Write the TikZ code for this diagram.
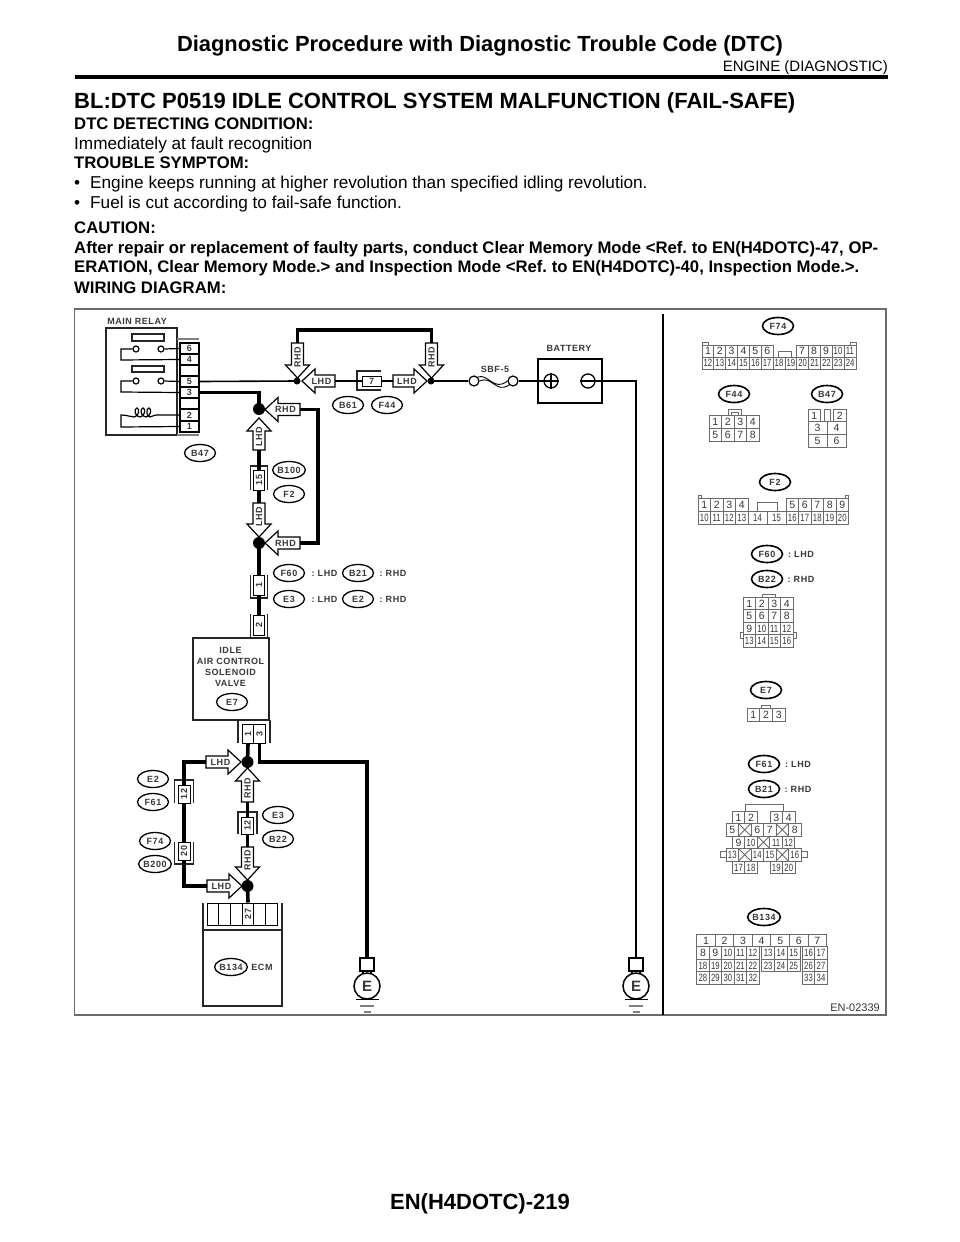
\documentclass[tikz,border=0pt]{standalone}
\usepackage{fontspec}
\usepackage{graphicx}
\usetikzlibrary{shapes.geometric}
\setmainfont{Liberation Sans}
\newfontfamily\lblfont[LetterSpace=6]{Liberation Sans}
\definecolor{ink}{gray}{0.22}
\definecolor{grid}{gray}{0.42}
\newcounter{cn}
\frenchspacing
\tikzset{
  wthick/.style={line width=3.6pt,line cap=butt,line join=miter},
  wthin/.style={line width=1.6pt},
  dev/.style={draw=black!85,line width=1.3pt},
  oval/.style={draw=black,line width=1.3pt,ellipse,minimum width=31pt,minimum height=17pt,inner sep=0pt,font=\fontsize{9}{10}\lblfont\bfseries,text=ink},
  ovalb/.style={oval,line width=1.6pt},
  lab/.style={font=\fontsize{9}{10}\lblfont\bfseries,text=ink,inner sep=0pt,align=center},
  pin/.style={draw=black,line width=1pt,fill=white,inner sep=0pt,font=\fontsize{9}{10}\lblfont\bfseries,text=ink},
  dotn/.style={circle,fill=black,inner sep=0pt},
  cellbox/.style={draw=grid,line width=0.9pt,inner sep=0pt,fill=white,font=\fontsize{10.5}{11}\selectfont,text=ink,text height=7.5pt,text depth=0pt},
  gridl/.style={draw=grid,line width=0.9pt},
  ptxt/.style={anchor=base west,inner sep=0pt,font=\fontsize{17.2}{19}\selectfont,text=black},
  ptxb/.style={ptxt,font=\fontsize{16.7}{19}\selectfont\bfseries},
  arrowb/.style={draw=black,line width=1.2pt,fill=white,line join=miter}
}
% cell text: two-digit numbers are set narrower
\newcommand\celltext[1]{\setbox0\hbox{#1}\ifdim\wd0>7pt \scalebox{0.74}[1]{#1}\else #1\fi}
% horizontal block arrow: name, tip x, y, sign, length, label
\newcommand\harr[6]{%
  \draw[arrowb] (#2,#3) -- ({#2-#4*13},{#3-12}) -- ({#2-#4*13},{#3-6}) -- ({#2-#4*#5},{#3-6}) -- ({#2-#4*#5},{#3+6}) -- ({#2-#4*13},{#3+6}) -- ({#2-#4*13},{#3+12}) -- cycle;
  \node[lab] (#1l) at ({#2-#4*(#5+6)/2},#3) {#6};
  \coordinate (#1) at ({#2-#4*#5},#3);}
% vertical block arrow: name, x, tip y, sign, length, label
\newcommand\varr[6]{%
  \draw[arrowb] (#2,#3) -- ({#2-12},{#3-#4*13}) -- ({#2-6},{#3-#4*13}) -- ({#2-6},{#3-#4*#5}) -- ({#2+6},{#3-#4*#5}) -- ({#2+6},{#3-#4*13}) -- ({#2+12},{#3-#4*13}) -- cycle;
  \node[lab,rotate=90] (#1l) at (#2,{#3-#4*(#5+6)/2}) {#6};
  \coordinate (#1) at (#2,{#3-#4*#5});}
% grid cell: x0,y0,x1,y1,text
\newcommand\cell[5]{\stepcounter{cn}%
  \node[cellbox,minimum width={((#3)-(#1))*1pt},minimum height={((#4)-(#2))*1pt}] (cell\arabic{cn}) at ({((#1)+(#3))/2},{((#2)+(#4))/2}) {\celltext{#5}};}
% row of cells: x0,dx,y0,y1,list
\newcommand\cellrow[5]{\foreach \t [count=\i from 0] in {#5}{\cell{#1+\i*#2}{#3}{#1+\i*#2+#2}{#4}{\t}}}
% pin box in a harness connector, rotated label
\newcommand\pinv[6]{\node[pin,minimum width=#4pt,minimum height=#5pt] (#1) at (#2,#3) {\rotatebox{90}{#6}};}
% earth symbol
\newcommand\gnd[3]{%
  \node[draw=black,line width=1.3pt,fill=white,minimum width=14pt,minimum height=13pt,inner sep=0pt] (#1) at (#2,964.5) {};
  \node[circle,draw=black,line width=1.5pt,fill=white,minimum size=26pt,inner sep=0pt,font=\fontsize{15}{16}\selectfont\bfseries,text=ink] (#3) at (#2,986) {E};
  \draw[line width=1.1pt] ({#2-4},971) -- ({#2-4},974) ({#2+4},971) -- ({#2+4},974);
  \draw[line width=1.4pt] ({#2-11.5},999.5) -- ({#2+11.5},999.5);
  \draw[line width=1.2pt,gray] ({#2-7},1006) -- ({#2+7},1006);
  \draw[line width=1.2pt,gray] ({#2-3.5},1012) -- ({#2+3.5},1012);}
\begin{document}
\begin{tikzpicture}[x=1pt,y=-1pt]
\useasboundingbox (0,0) rectangle (960,1242);
\fill[white] (0,0) rectangle (960,1242);
% ---- page text
\node[anchor=base,inner sep=0pt,font=\fontsize{21.9}{24}\selectfont\bfseries] (title) at (480,51) {Diagnostic Procedure with Diagnostic Trouble Code (DTC)};
\node[anchor=base east,inner sep=0pt,font=\fontsize{15}{18}\selectfont] (chap) at (888,71) {ENGINE (DIAGNOSTIC)};
\draw[line width=3.6pt] (75,77) -- (888,77);
\node[ptxt,font=\fontsize{22}{24}\selectfont\bfseries] (head) at (74,108) {BL:DTC P0519 IDLE CONTROL SYSTEM MALFUNCTION (FAIL-SAFE)};
\node[ptxb] (t1) at (74,129) {DTC DETECTING CONDITION:};
\node[ptxt] (t2) at (74,149) {Immediately at fault recognition};
\node[ptxb] (t3) at (74,168) {TROUBLE SYMPTOM:};
\node[ptxt] (t4a) at (74,188) {•};
\node[ptxt] (t4) at (90,188) {Engine keeps running at higher revolution than specified idling revolution.};
\node[ptxt] (t5a) at (74,208) {•};
\node[ptxt] (t5) at (90,208) {Fuel is cut according to fail-safe function.};
\node[ptxb] (t6) at (74,233) {CAUTION:};
\node[ptxb] (t7) at (74,253) {After repair or replacement of faulty parts, conduct Clear Memory Mode <Ref. to EN(H4DOTC)-47, OP-};
\node[ptxb] (t8) at (74,272) {ERATION, Clear Memory Mode.> and Inspection Mode <Ref. to EN(H4DOTC)-40, Inspection Mode.>.};
\node[ptxb] (t9) at (74,293) {WIRING DIAGRAM:};
\node[anchor=base,inner sep=0pt,font=\fontsize{22}{26}\selectfont\bfseries] (foot) at (480,1209) {EN(H4DOTC)-219};
% ---- frame
\draw[draw=grid,line width=1.5pt] (74.5,309) rectangle (886,1015);
\draw[line width=2.4pt] (663,314) -- (663,1015);
\node[anchor=base east,inner sep=0pt,font=\fontsize{11}{12}\selectfont,text=ink] (code) at (880,1011) {EN-02339};
% ---- main relay
\node[lab] (mrl) at (137,321) {MAIN RELAY};
\draw[dev] (106,328) rectangle (177,435);
\draw[gray,line width=1.3pt] (177,339) -- (199,339) (177,435) -- (199,435);
\foreach \n/\l/\y in {r6/6/348.5,r4/4/359.5,rb/{}/370.5,r5/5/381.5,r3/3/392.5,rc/{}/403.5,r2/2/415,r1/1/426.5}{
  \node[pin,minimum width=19pt,minimum height=11pt,line width=1.1pt] (\n) at (189.5,\y) {\l};}
\draw[dev] (132,334) rectangle (164,341) (132,366) rectangle (164,372);
\node[circle,draw=black,line width=1.2pt,minimum size=6pt,inner sep=0pt] (ca1) at (136,349) {};
\node[circle,draw=black,line width=1.2pt,minimum size=6pt,inner sep=0pt] (ca2) at (161,349) {};
\node[circle,draw=black,line width=1.2pt,minimum size=6pt,inner sep=0pt] (cb1) at (136,381) {};
\node[circle,draw=black,line width=1.2pt,minimum size=6pt,inner sep=0pt] (cb2) at (161,381) {};
\draw[line width=1.2pt] (ca2.east) -- (r6.west) (ca1.west) -- (121,349) -- (121,360) -- (r4.west);
\draw[line width=1.2pt] (cb2.east) -- (r5.west) (cb1.west) -- (121,381) -- (121,392) -- (r3.west);
\draw[line width=1.2pt] (r2.west) -- (157,415) .. controls (153,415) and (152,417) .. (150,417)
  .. controls (146,417) and (146,408) .. (149,408) .. controls (152,408) and (151,417) .. (146,417)
  .. controls (140,417) and (140,408) .. (143,408) .. controls (146,408) and (145,417) .. (140,417)
  .. controls (134,417) and (134,408) .. (137,408) .. controls (140,408) and (139,417) .. (134,417)
  .. controls (130,417) and (128,415) .. (121,415) -- (121,427) -- (r1.west);
\node[oval] (oB47) at (200,453) {B47};
% ---- wires: nodes of the upper harness
\node[dotn,minimum size=12pt] (d1) at (259,409) {};
\node[dotn,minimum size=12pt] (d2) at (259,543) {};
\node[dotn,minimum size=7pt] (d3) at (297,381) {};
\node[dotn,minimum size=7pt] (d4) at (431,381) {};
\varr{a1}{259}{418}{-1}{32}{LHD}
\varr{a2}{259}{537}{1}{34}{LHD}
\harr{a3}{265}{409.5}{-1}{35}{RHD}
\harr{a4}{265}{543}{-1}{35}{RHD}
\varr{a5}{297.5}{378}{1}{35}{RHD}
\varr{a6}{431.5}{378}{1}{35}{RHD}
\harr{a7}{302}{381}{-1}{33}{LHD}
\harr{a8}{427}{381}{1}{34}{LHD}
\pinv{c15}{259}{480}{11}{20}{15}
\draw[dev] (250.5,490) -- (250.5,466) -- (267.5,466) -- (267.5,490);
\pinv{c1}{259}{585}{11}{20}{1}
\draw[dev] (250.5,575) -- (250.5,598) -- (267.5,598) -- (267.5,575);
\pinv{c2}{259}{625}{11}{20}{2}
\draw[dev] (250.5,614) -- (250.5,638) (267.5,614) -- (267.5,638);
\node[pin,minimum width=19pt,minimum height=10pt] (c7) at (371.5,381) {7};
\draw[dev] (381,371) -- (357,371) -- (357,390) -- (381,390);
\draw[wthick] (r3.east) -- (259,392.5) -- (d1.center);
\draw[wthick] (a1) -- (c15.north);
\draw[wthick] (c15.south) -- (a2);
\draw[wthick] (d2.center) -- (c1.north);
\draw[wthick] (c1.south) -- (c2.north);
\draw[wthick] (a3) -- (318,409.5) -- (318,543) -- (a4);
\draw[wthick] (a5) -- (297.5,330) -- (431.5,330) -- (a6);
\draw[wthin] (r5.east) -- (d3.center);
\draw[wthin] (a7) -- (c7.west);
\draw[wthin] (c7.east) -- (a8);
\node[oval] (oB100) at (289,470) {B100};
\node[oval] (oF2) at (289,494) {F2};
\node[oval] (oB61) at (348,405) {B61};
\node[oval] (oF44) at (387,405) {F44};
\node[oval] (oF60) at (289,573) {F60};
\node[oval] (oE3) at (289,599) {E3};
\node[oval] (oB21) at (358,573) {B21};
\node[oval] (oE2) at (358,599) {E2};
\node[lab] (l1) at (324.5,573) {: LHD};
\node[lab] (l2) at (324.5,599) {: LHD};
\node[lab] (l3) at (393,573) {: RHD};
\node[lab] (l4) at (393,599) {: RHD};
% ---- fuse & battery
\node[circle,draw=black,line width=1.2pt,minimum size=10pt,inner sep=0pt] (f1) at (474,381) {};
\node[circle,draw=black,line width=1.2pt,minimum size=10pt,inner sep=0pt] (f2) at (513,381) {};
\draw[line width=0.9pt] (f1.north east) .. controls (488,373) and (494,392) .. (f2.west);
\draw[line width=0.9pt] (f1.east) .. controls (492,375) and (496,394) .. (f2.south west);
\node[lab] (sbf) at (495,369) {SBF-5};
\node[draw=black,line width=1.3pt,minimum width=64pt,minimum height=44pt,inner sep=0pt] (bat) at (570,381) {};
\node[lab] (batl) at (569,348) {BATTERY};
\node[circle,draw=black,line width=1.3pt,minimum size=14pt,inner sep=0pt] (bp) at (551,381) {};
\node[circle,draw=black,line width=1.3pt,minimum size=14pt,inner sep=0pt] (bm) at (588,381) {};
\draw[line width=1.1pt] (bp.west) -- (bp.east) (bp.north) -- (bp.south) (bm.west) -- (bm.east);
\draw[wthin] (d4.center) -- (f1.west);
\draw[wthin] (f2.east) -- (bp.west);
% ---- solenoid valve
\node[draw=black!85,line width=1.3pt,minimum width=76pt,minimum height=82pt,inner sep=0pt] (valve) at (231,679) {};
\node[lab,font=\fontsize{9}{11}\lblfont\bfseries] (vall) at (230.5,666.5) {IDLE\\AIR CONTROL\\SOLENOID\\VALVE};
\node[oval] (oE7) at (232,702) {E7};
\pinv{p1}{248}{733.5}{11}{19}{1}
\pinv{p3}{259.5}{733.5}{12}{19}{3}
\draw[dev] (238,720) -- (238,743) (270,720) -- (270,743);
\node[dotn,minimum size=12pt] (d5) at (247.5,762) {};
\node[dotn,minimum size=12pt] (d6) at (247.5,886) {};
\harr{a9}{241}{762}{1}{35}{LHD}
\harr{a10}{242}{886}{1}{35}{LHD}
\varr{a11}{247.5}{768}{-1}{34}{RHD}
\varr{a12}{247.5}{880}{1}{33}{RHD}
\pinv{e12}{184}{794}{12}{18}{12}
\draw[dev] (174.5,803) -- (174.5,780) -- (193.5,780) -- (193.5,803);
\pinv{e20}{184}{851}{12}{18}{20}
\draw[dev] (174.5,842) -- (174.5,864) -- (193.5,864) -- (193.5,842);
\pinv{g12}{247.5}{825.5}{12}{17}{12}
\draw[dev] (238,834) -- (238,812) -- (257,812) -- (257,834);
% ECM
\node[draw=black!85,line width=1.3pt,minimum width=79pt,minimum height=76pt,inner sep=0pt] (ecm) at (242.5,968) {};
\draw[dev] (203,903) -- (203,930) (282,903) -- (282,930);
\foreach \i/\n/\l in {0/m1/{},1/m2/{},2/m3/{},3/m4/27,4/m5/{},5/m6/{}}{
  \node[pin,minimum width=11.67pt,minimum height=22pt] (\n) at ({213+\i*11.67},914) {\rotatebox{90}{\l}};}
\node[oval] (oB134) at (231,967) {B134};
\node[lab] (ecml) at (262,967) {ECM};
\gnd{gb1}{367}{ge1}
\gnd{gb2}{636}{ge2}
\draw[wthick] (p1.south) -- (d5.center);
\draw[wthick] (p3.south) -- (259.5,762) -- (367,762) -- (gb1.north);
\draw[wthick] (a9) -- (184,762) -- (e12.north);
\draw[wthick] (e12.south) -- (e20.north);
\draw[wthick] (e20.south) -- (184,886) -- (a10);
\draw[wthick] (a11) -- (g12.north);
\draw[wthick] (g12.south) -- (a12);
\draw[wthick] (d6.center) -- (m4.north);
\draw[wthin] (bm.east) -- (636,381) -- (gb2.north);
\node[oval] (oE2b) at (153,779) {E2};
\node[oval] (oF61) at (153,802) {F61};
\node[oval] (oF74) at (155,841) {F74};
\node[oval] (oB200) at (155,864) {B200};
\node[oval] (oE3b) at (278,815) {E3};
\node[oval] (oB22) at (278,839) {B22};
% ---- connector faces: F74
\node[ovalb] (kF74) at (778,326) {F74};
\draw[gridl] (702,345) -- (702,342.5) -- (708,342.5) -- (708,345) (850,345) -- (850,342.5) -- (856,342.5) -- (856,345);
\draw[gridl] (778,357) -- (778,351) -- (791,351) -- (791,357);
\cellrow{702}{11.85}{345}{357}{1,2,3,4,5,6}
\cellrow{796}{12}{345}{357}{7,8,9,10,11}
\cellrow{702}{11.85}{357}{369}{12,13,14,15,16,17,18,19,20,21,22,23,24}
% F44
\node[ovalb] (kF44) at (734,394) {F44};
\draw[gridl] (728,415) -- (728,409) -- (741,409) -- (741,415) (731,415) -- (731,412) -- (738,412) -- (738,415);
\cellrow{709}{12.5}{415}{428}{1,2,3,4}
\cellrow{709}{12.5}{428}{441}{5,6,7,8}
% B47
\node[ovalb] (kB47) at (827,394) {B47};
\cell{808}{409}{820.5}{421.5}{1}
\cell{833.5}{409}{846}{421.5}{2}
\draw[gridl] (824,421.5) -- (824,409) -- (830,409) -- (830,421.5);
\cellrow{808}{19}{421.5}{434}{3,4}
\cellrow{808}{19}{434}{447}{5,6}
% F2
\node[ovalb] (kF2) at (775,482) {F2};
\draw[gridl] (698,498) -- (698,495) -- (701.5,495) -- (701.5,498) (845,498) -- (845,495) -- (848,495) -- (848,498);
\draw[gridl] (757,511) -- (757,502) -- (777,502) -- (777,511);
\cellrow{698}{12.5}{498}{511}{1,2,3,4}
\cellrow{786}{12.5}{498}{511}{5,6,7,8,9}
\cellrow{698}{12.5}{511}{524}{10,11,12,13}
\cell{748}{511}{767}{524}{14}
\cell{767}{511}{786}{524}{15}
\cellrow{786}{12.5}{511}{524}{16,17,18,19,20}
% F60/B22
\node[ovalb] (kF60) at (767,554) {F60};
\node[lab] (kl1) at (801,554) {: LHD};
\node[ovalb] (kB22) at (767,579) {B22};
\node[lab] (kl2) at (801,579) {: RHD};
\draw[gridl] (762,597) -- (762,594) -- (775,594) -- (775,597);
\draw[gridl] (743,632) -- (740,632) -- (740,638) -- (743,638) (793,632) -- (796,632) -- (796,638) -- (793,638);
\cellrow{743}{12.5}{597}{609.5}{1,2,3,4}
\cellrow{743}{12.5}{609.5}{622}{5,6,7,8}
\cellrow{743}{12.5}{622}{634.5}{9,10,11,12}
\cellrow{743}{12.5}{634.5}{647}{13,14,15,16}
% E7
\node[ovalb] (kE7) at (766,690) {E7};
\draw[gridl] (761,708) -- (761,705) -- (770,705) -- (770,708);
\cellrow{747}{12.67}{708}{721}{1,2,3}
% F61/B21
\node[ovalb] (kF61) at (764,764) {F61};
\node[lab] (kl3) at (798,764) {: LHD};
\node[ovalb] (kB21) at (764,789) {B21};
\node[lab] (kl4) at (798,789) {: RHD};
\draw[gridl] (745,811) -- (745,804) -- (783,804) -- (783,811);
\draw[gridl] (726,851.5) -- (720,851.5) -- (720,857.5) -- (726,857.5) (801,851.5) -- (807,851.5) -- (807,857.5) -- (801,857.5);
\cellrow{732.3}{12.5}{811}{823.5}{1,2}
\cellrow{770}{12.5}{811}{823.5}{3,4}
\cellrow{726}{12.5}{823.5}{836}{5,{},6,7,{},8}
\cellrow{732.3}{12.5}{836}{848.5}{9,10,{},11,12}
\cellrow{726}{12.5}{848.5}{861}{13,{},14,15,{},16}
\cellrow{732.3}{12.5}{861}{873.5}{17,18}
\cellrow{770}{12.5}{861}{873.5}{19,20}
\draw[gridl] (738.5,823.5) -- (751,836) (751,823.5) -- (738.5,836) (776,823.5) -- (788.5,836) (788.5,823.5) -- (776,836)
  (757.3,836) -- (769.8,848.5) (769.8,836) -- (757.3,848.5)
  (738.5,848.5) -- (751,861) (751,848.5) -- (738.5,861) (776,848.5) -- (788.5,861) (788.5,848.5) -- (776,861);
% B134
\node[ovalb] (kB134) at (764,917) {B134};
\cellrow{696.7}{18.55}{934.3}{946.7}{1,2,3,4,5,6,7}
\cellrow{696.7}{12.47}{946.7}{959}{8,9,10,11,12}
\cellrow{761.7}{12.77}{946.7}{959}{13,14,15}
\cellrow{802.3}{12.5}{946.7}{959}{16,17}
\cellrow{696.7}{12.47}{959}{971.7}{18,19,20,21,22}
\cellrow{761.7}{12.77}{959}{971.7}{23,24,25}
\cellrow{802.3}{12.5}{959}{971.7}{26,27}
\cellrow{696.7}{12.47}{971.7}{984.3}{28,29,30,31,32}
\cellrow{802.3}{12.5}{971.7}{984.3}{33,34}
\end{tikzpicture}
\end{document}
